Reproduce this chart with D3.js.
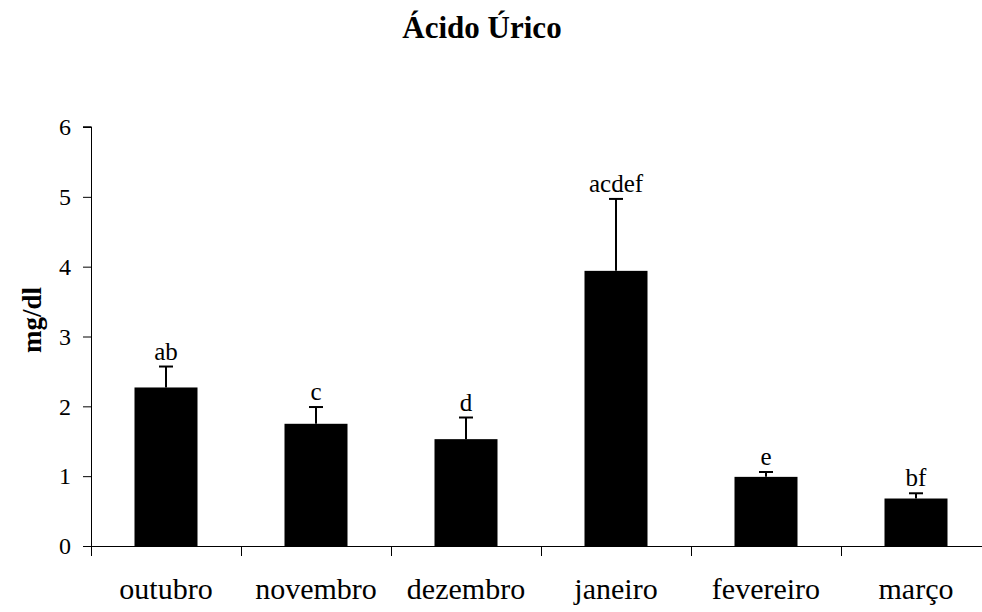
<!DOCTYPE html>
<html>
<head>
<meta charset="utf-8">
<script src="https://cdn.jsdelivr.net/npm/d3@7"></script>
<style>
  html, body { margin: 0; padding: 0; background: #fff; }
  svg { display: block; }
  svg text { font-family: "Liberation Serif", "Times New Roman", serif; fill: #000; }
</style>
</head>
<body>
<svg id="chart" width="982" height="612"></svg>
<script>
// Monthly uric acid means (mg/dl), standard errors and significance letters
const months = ["outubro", "novembro", "dezembro", "janeiro", "fevereiro", "março"];
const means = [2.27, 1.75, 1.53, 3.94, 0.99, 0.68];
const errors = [0.30, 0.24, 0.31, 1.03, 0.07, 0.075];
const letters = ["ab", "c", "d", "acdef", "e", "bf"];
const yTicks = [0, 1, 2, 3, 4, 5, 6];

const serif = "'Liberation Serif', 'Times New Roman', serif";
const svg = d3.select("#chart");
const margin = { left: 91, top: 127, bottom: 66 };
const height = 612;
const plotRight = 991;

const x = d3.scaleBand()
  .domain(months)
  .range([margin.left, plotRight])
  .paddingInner(0.58)
  .paddingOuter(0.29);

const y = d3.scaleLinear()
  .domain([0, 6])
  .range([height - margin.bottom, margin.top]);

// Title
svg.append("text")
  .attr("x", 482)
  .attr("y", 38)
  .attr("text-anchor", "middle")
  .style("font-family", serif)
  .style("font-weight", "bold")
  .style("font-size", "31px")
  .text("Ácido Úrico");

// Y axis title
svg.append("text")
  .attr("transform", `translate(41,320) rotate(-90)`)
  .attr("text-anchor", "middle")
  .style("font-family", serif)
  .style("font-weight", "bold")
  .style("font-size", "27px")
  .text("mg/dl");

// Bars
svg.append("g")
  .selectAll("rect")
  .data(months)
  .join("rect")
  .attr("x", d => x(d))
  .attr("y", (d, i) => y(means[i]))
  .attr("width", x.bandwidth())
  .attr("height", (d, i) => y(0) - y(means[i]))
  .attr("fill", "#000");

// Error bars (upper half only)
const eb = svg.append("g").attr("stroke", "#000").attr("stroke-width", 2);
months.forEach((m, i) => {
  const cx = x(m) + x.bandwidth() / 2;
  const top = y(means[i] + errors[i]);
  eb.append("line")
    .attr("x1", cx).attr("x2", cx)
    .attr("y1", y(means[i])).attr("y2", top);
  eb.append("line")
    .attr("x1", cx - 7).attr("x2", cx + 7)
    .attr("y1", top).attr("y2", top);
});

// Significance letters
svg.append("g")
  .selectAll("text")
  .data(months)
  .join("text")
  .attr("x", d => x(d) + x.bandwidth() / 2)
  .attr("y", (d, i) => y(means[i] + errors[i]) - 7)
  .attr("text-anchor", "middle")
  .style("font-family", serif)
  .style("font-size", "25px")
  .text((d, i) => letters[i]);

// Y axis
const yAxis = svg.append("g")
  .attr("transform", `translate(${margin.left},0)`)
  .call(d3.axisLeft(y).tickValues(yTicks).tickFormat(d3.format("d")).tickSize(8).tickPadding(12));
yAxis.selectAll("text")
  .style("font-family", serif)
  .style("font-size", "24px");
yAxis.select(".domain").attr("d", `M0.5,${y(6)}H-8H0.5V${y(0)}`);

// X axis: ticks at category boundaries, pointing down
const xAxisG = svg.append("g").attr("transform", `translate(0,${y(0)})`);
xAxisG.append("line")
  .attr("x1", margin.left).attr("x2", plotRight)
  .attr("y1", 0.5).attr("y2", 0.5)
  .attr("stroke", "#000");
const step = x.step();
const bounds = months.map(m => x(m) - x.paddingInner() * step / 2);
xAxisG.selectAll("line.tick")
  .data(bounds)
  .join("line")
  .attr("class", "tick")
  .attr("x1", d => Math.round(d) + 0.5).attr("x2", d => Math.round(d) + 0.5)
  .attr("y1", 0).attr("y2", 10)
  .attr("stroke", "#000");
xAxisG.selectAll("text")
  .data(months)
  .join("text")
  .attr("x", d => x(d) + x.bandwidth() / 2)
  .attr("y", 53)
  .attr("text-anchor", "middle")
  .style("font-family", serif)
  .style("font-size", "30px")
  .text(d => d);
</script>
</body>
</html>
